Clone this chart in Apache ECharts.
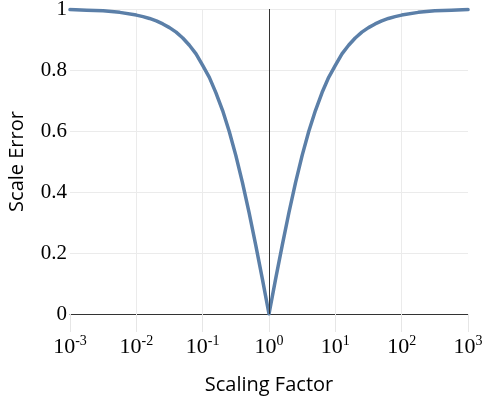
<!DOCTYPE html>
<html>
<head>
<meta charset="utf-8">
<script src="https://cdn.jsdelivr.net/npm/echarts@6/dist/echarts.min.js"></script>
<style>
html,body{margin:0;padding:0;background:#fff;}
#chart{width:486px;height:399px;}
</style>
</head>
<body>
<div id="chart"></div>
<script>
// Scaling factor (x, log scale)
var scalingFactor = [0.001, 0.00178, 0.00316, 0.00562, 0.01, 0.0126, 0.0158, 0.02, 0.0251, 0.0316, 0.0398, 0.0501, 0.0631, 0.0794,
  0.1, 0.126, 0.158, 0.2, 0.251, 0.316, 0.398, 0.501, 0.631, 0.794, 1,
  1.259, 1.585, 1.995, 2.512, 3.162, 3.981, 5.012, 6.31, 7.943, 10,
  12.59, 15.85, 19.95, 25.12, 31.62, 39.81, 50.12, 63.1, 79.43, 100, 177.8, 316.2, 562.3, 1000];
// Scale error (y)
var scaleError = [0.998, 0.996, 0.994, 0.989, 0.98, 0.975, 0.969, 0.961, 0.951, 0.939, 0.924, 0.905, 0.881, 0.853,
  0.815, 0.776, 0.726, 0.667, 0.599, 0.52, 0.431, 0.332, 0.226, 0.115, 0,
  0.115, 0.226, 0.332, 0.431, 0.52, 0.599, 0.667, 0.726, 0.776, 0.815,
  0.853, 0.881, 0.905, 0.924, 0.939, 0.951, 0.961, 0.969, 0.975, 0.98, 0.989, 0.994, 0.996, 0.998];
var yTicks = [0, 0.2, 0.4, 0.6, 0.8, 1];
var xTitle = 'Scaling Factor';
var yTitle = 'Scale Error';

var pts = scalingFactor.map(function (x, i) { return [x, scaleError[i]]; });

var chart = echarts.init(document.getElementById('chart'), null, {renderer: 'canvas'});
chart.setOption({
  animation: false,
  grid: {left: 70, right: 18, top: 9, bottom: 85, containLabel: false, outerBoundsMode: 'none'},
  xAxis: {
    type: 'log', logBase: 10, min: 0.001, max: 1000,
    name: xTitle, nameLocation: 'middle', nameGap: 61,
    nameTextStyle: {fontFamily: 'Open Sans', fontSize: 20, color: '#000'},
    axisLine: {show: true, lineStyle: {color: '#333', width: 1}},
    axisTick: {show: true, length: 18, lineStyle: {color: '#e6e6e6'}},
    minorTick: {show: false},
    splitLine: {show: true, showMinLine: false, showMaxLine: false, lineStyle: {color: '#ebebeb', width: 1}},
    axisLabel: {
      margin: 20,
      fontFamily: 'Liberation Serif', fontSize: 22, color: '#000',
      formatter: function (v) {
        var e = Math.round(Math.log10(v));
        return '{b|10}{s|' + e + '}';
      },
      rich: {
        b: {fontFamily: 'Liberation Serif', fontSize: 22, color: '#000'},
        s: {fontFamily: 'Liberation Serif', fontSize: 14, color: '#000', padding: [0, 0, 12, 0]}
      }
    }
  },
  yAxis: {
    type: 'value', min: 0, max: 1, interval: 0.2,
    name: yTitle, nameLocation: 'middle', nameGap: 43,
    nameTextStyle: {fontFamily: 'Open Sans', fontSize: 20, color: '#000'},
    axisLine: {show: false},
    axisTick: {show: false},
    splitLine: {show: true, lineStyle: {color: '#ebebeb', width: 1}},
    axisLabel: {
      margin: 3,
      fontFamily: 'Liberation Serif', fontSize: 21, color: '#000',
      formatter: function (v) { return yTicks.indexOf(Math.round(v * 10) / 10) >= 0 ? String(Math.round(v * 10) / 10) : ''; }
    }
  },
  series: [{
    type: 'line',
    data: pts,
    showSymbol: false,
    smooth: false,
    lineStyle: {color: '#5b7fa8', width: 3.5, join: 'round', cap: 'round'},
    markLine: {
      silent: true,
      symbol: ['none', 'none'],
      label: {show: false},
      lineStyle: {color: '#333', width: 1, type: 'solid'},
      data: [{xAxis: 1}]
    },
    z: 3
  }]
});
</script>
</body>
</html>
